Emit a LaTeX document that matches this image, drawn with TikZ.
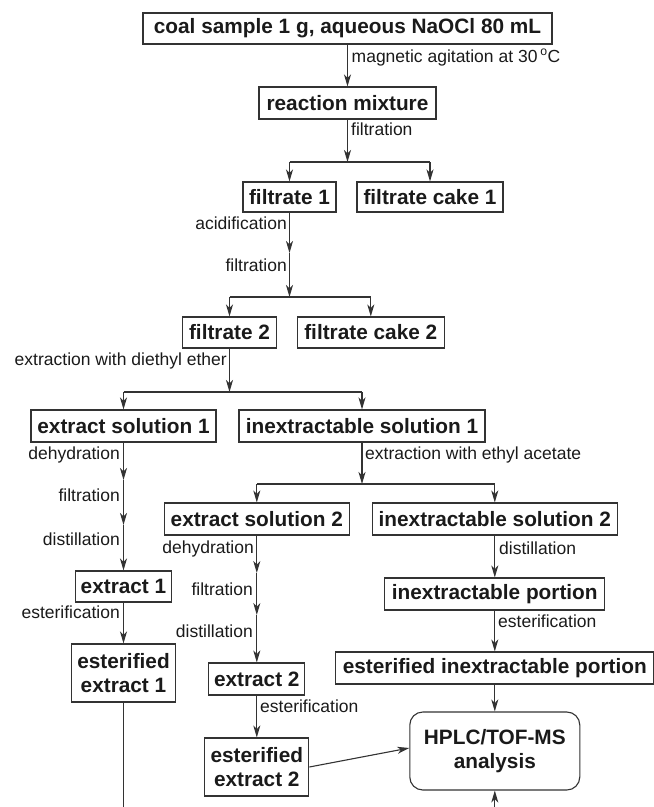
\documentclass[tikz,border=0pt]{standalone}
\usepackage{fontspec}
\usetikzlibrary{arrows.meta}
\newfontfamily\boxfont{Liberation Sans}
\newfontfamily\lblfont{Liberation Sans}
\definecolor{ln}{HTML}{333333}
\definecolor{tx}{HTML}{1a1a1a}
\tikzset{
  box/.style={draw=ln, line width=1.1pt, text=tx, inner xsep=0pt, inner ysep=2pt,
    font=\boxfont\bfseries\fontsize{20.8}{23.7}\selectfont, align=center, minimum height=31pt},
  lblw/.style={anchor=mid west, inner sep=0pt, text=tx, font=\lblfont\fontsize{17.5}{20}\selectfont},
  lble/.style={anchor=mid east, inner sep=0pt, text=tx, font=\lblfont\fontsize{17.5}{20}\selectfont},
  conn/.style={draw=ln, line width=1.1pt},
  arr/.style={conn, -{Stealth[length=12pt,width=7pt,inset=3.5pt]}}
}
\begin{document}
\begin{tikzpicture}[x=1pt,y=-1pt]
\useasboundingbox (0,0) rectangle (654,807);
% boxes
\node[box, minimum width=409pt] (coal) at (347.5,28.5) {coal sample 1 g, aqueous NaOCl 80 mL};
\node[box, minimum width=177pt, minimum height=32pt] (rm) at (347.5,103) {reaction mixture};
\node[box, minimum width=93pt, minimum height=30pt] (f1) at (289.5,197) {filtrate 1};
\node[box, minimum width=146pt, minimum height=30pt] (fc1) at (430,197) {filtrate cake 1};
\node[box, minimum width=93.5pt] (f2) at (229.5,332.5) {filtrate 2};
\node[box, minimum width=146.5pt] (fc2) at (370.8,332.5) {filtrate cake 2};
\node[box, minimum width=185pt, minimum height=32pt] (es1) at (123.5,426) {extract solution 1};
\node[box, minimum width=246pt, minimum height=32pt] (is1) at (362,426) {inextractable solution 1};
\node[box, minimum width=96pt] (ex1) at (123.5,586.5) {extract 1};
\node[box, minimum width=184.5pt, minimum height=32pt] (es2) at (256.8,519) {extract solution 2};
\node[box, minimum width=245.5pt, minimum height=32pt] (is2) at (494.8,519) {inextractable solution 2};
\node[box, minimum width=220pt, minimum height=32pt] (ip) at (494.8,594) {inextractable portion};
\node[box, minimum width=104pt, minimum height=58pt] (ees1) at (123.5,673) {esterified\\extract 1};
\node[box, minimum width=96pt, minimum height=32pt] (ex2) at (256.8,679) {extract 2};
\node[box, minimum width=104pt, minimum height=58pt] (ees2) at (256.8,767) {esterified\\extract 2};
\node[box, minimum width=318pt, minimum height=32pt] (eip) at (494.8,668) {esterified inextractable portion};
\node[box, minimum width=170pt, minimum height=78pt, rounded corners=13pt] (hplc) at (494.8,751) {HPLC/TOF-MS\\analysis};
% junction coordinates
\coordinate (j1) at (347.5,162);
\coordinate (m1) at (289.5,253);
\coordinate (j2) at (289.5,297);
\coordinate (j3) at (229.5,392);
\coordinate (m2) at (123.5,480);
\coordinate (m3) at (123.5,525);
\coordinate (j4) at (362,484);
\coordinate (m4) at (256.8,573);
\coordinate (m5) at (256.8,615);
\coordinate (bl) at (123.5,807);
\coordinate (br) at (494.8,807);
% connectors
\draw[arr] (coal.south) -- (rm.north);
\draw[arr] (rm.south) -- (j1);
\draw[conn] (j1 -| f1) -- (j1 -| fc1);
\draw[arr] (j1 -| f1) -- (f1.north);
\draw[arr] (j1 -| fc1) -- (fc1.north);
\draw[arr] (f1.south) -- (m1);
\draw[arr] (m1) -- (j2);
\draw[conn] (j2 -| f2) -- (j2 -| fc2);
\draw[arr] (j2 -| f2) -- (f2.north);
\draw[arr] (j2 -| fc2) -- (fc2.north);
\draw[arr] (f2.south) -- (j3);
\draw[conn] (j3 -| es1) -- (j3 -| is1);
\draw[arr] (j3 -| es1) -- (es1.north);
\draw[arr] (j3 -| is1) -- (is1.north);
\draw[arr] (es1.south) -- (m2);
\draw[arr] (m2) -- (m3);
\draw[arr] (m3) -- (ex1.north);
\draw[arr] (ex1.south) -- (ees1.north);
\draw[conn] (ees1.south) -- (bl);
\draw[arr] (is1.south) -- (j4);
\draw[conn] (j4 -| es2) -- (j4 -| is2);
\draw[arr] (j4 -| es2) -- (es2.north);
\draw[arr] (j4 -| is2) -- (is2.north);
\draw[arr] (es2.south) -- (m4);
\draw[arr] (m4) -- (m5);
\draw[arr] (m5) -- (ex2.north);
\draw[arr] (ex2.south) -- (ees2.north);
\draw[arr] (is2.south) -- (ip.north);
\draw[arr] (ip.south) -- (eip.north);
\draw[arr] (eip.south) -- (hplc.north);
\draw[arr] (ees2.east) -- ([yshift=3pt]hplc.west);
\draw[arr] (br) -- (hplc.south);
% labels
\node[lblw] (l1) at (351.5,60) {magnetic agitation at 30\,\textsuperscript{o}C};
\node[lblw] (l2) at (351,133) {filtration};
\node[lble] (l3) at (287,227) {acidification};
\node[lble] (l4) at (287,269) {filtration};
\node[lble] (l5) at (227,363) {extraction with diethyl ether};
\node[lble] (l6) at (120,457) {dehydration};
\node[lble] (l7) at (120,499) {filtration};
\node[lble] (l8) at (120,543) {distillation};
\node[lblw] (l9) at (365,457) {extraction with ethyl acetate};
\node[lble] (l10) at (254,551) {dehydration};
\node[lble] (l11) at (253,593) {filtration};
\node[lble] (l12) at (253,635) {distillation};
\node[lblw] (l13) at (499,552) {distillation};
\node[lble] (l14) at (120,616) {esterification};
\node[lblw] (l15) at (260,710) {esterification};
\node[lblw] (l16) at (498,625) {esterification};
\end{tikzpicture}
\end{document}
